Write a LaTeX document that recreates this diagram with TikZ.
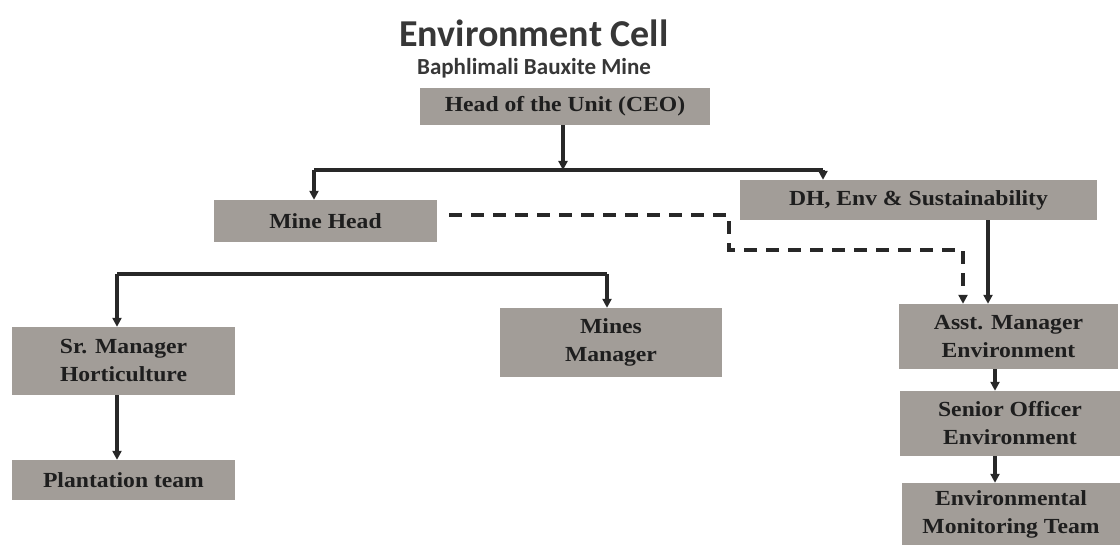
\documentclass[tikz,border=0pt]{standalone}
\usepackage{fontspec}
\setmainfont{Liberation Serif}
\newfontfamily\boxfont{Liberation Serif}[FakeStretch=1.1]
\newfontfamily\titlefont{Carlito}
\usetikzlibrary{arrows.meta}
\definecolor{boxgray}{RGB}{162,157,152}
\definecolor{linecol}{RGB}{40,40,40}
\definecolor{txtcol}{RGB}{30,30,30}
\definecolor{titcol}{RGB}{55,55,55}
\tikzset{
  orgbox/.style={fill=boxgray, draw=none, inner sep=0pt, align=center, text=txtcol,
    font=\boxfont\bfseries\fontsize{21.5}{28}\selectfont},
  link/.style={draw=linecol, line width=3.2pt},
  arrowlink/.style={link, -{Triangle[length=9pt,width=9pt]}},
  dashlink/.style={draw=linecol, line width=3.2pt, dash pattern=on 13pt off 9pt, -{Triangle[length=9pt,width=9pt]}},
}
\begin{document}
\begin{tikzpicture}[x=1pt,y=-1pt]
\useasboundingbox (0,0) rectangle (1120,545);
\fill[white] (0,0) rectangle (1120,545);
% titles
\node[text=titcol, font=\titlefont\bfseries\fontsize{38}{40}\selectfont] (title) at (534,33) {Environment Cell};
\node[text=titcol, font=\titlefont\bfseries\fontsize{23}{26}\selectfont] (subtitle) at (534,68) {Baphlimali Bauxite Mine};
% boxes
\node[orgbox, minimum width=290pt, minimum height=37pt] (ceo) at (565,106.5) {Head of the Unit (CEO)};
\node[orgbox, minimum width=223pt, minimum height=42pt] (mh) at (325.5,221) {Mine Head};
\node[orgbox, minimum width=357pt, minimum height=40pt] (dh) at (918.5,200) {DH, Env \& Sustainability};
\node[orgbox, minimum width=223pt, minimum height=68pt] (srm) at (123.5,361) {Sr. Manager\\Horticulture};
\node[orgbox, minimum width=222pt, minimum height=69pt] (mm) at (611,342.5) {Mines\\Manager};
\node[orgbox, minimum width=223pt, minimum height=40pt] (plant) at (123.5,480) {Plantation team};
\node[orgbox, minimum width=219pt, minimum height=65pt] (asst) at (1008.5,336.5) {Asst. Manager\\Environment};
\node[orgbox, minimum width=220pt, minimum height=65pt] (sen) at (1010,423.5) {Senior Officer\\Environment};
\node[orgbox, minimum width=218pt, minimum height=62pt] (env) at (1011,514) {Environmental\\Monitoring Team};
% coordinates
\coordinate (j0) at (563,170);
\coordinate (jl) at (314,170);
\coordinate (jr) at (823,170);
\coordinate (k0) at (607,274);
\coordinate (kl) at (117,274);
\coordinate (d1) at (729,215);
\coordinate (d2) at (729,250);
\coordinate (d3) at (963,250);
\coordinate (s1) at (988,0);
\coordinate (s2) at (995,0);
% connectors
\draw[arrowlink] (ceo.south -| j0) -- (j0);
\draw[link] (jl) -- (jr);
\draw[arrowlink] (jl) -- (jl |- mh.north);
\draw[arrowlink] (jr) -- (jr |- dh.north);
\draw[dashlink] (mh.east |- d1) ++(12,0) -- (d1) -- (d2) -- (d3) -- (d3 |- asst.north);
\draw[arrowlink] (dh.south -| s1) -- (asst.north -| s1);
\draw[link] (kl) -- (k0);
\draw[arrowlink] (kl) -- (kl |- srm.north);
\draw[arrowlink] (k0) -- (k0 |- mm.north);
\draw[arrowlink] (kl |- srm.south) -- (kl |- plant.north);
\draw[arrowlink] (asst.south -| s2) -- (sen.north -| s2);
\draw[arrowlink] (sen.south -| s2) -- (env.north -| s2);
\end{tikzpicture}
\end{document}
